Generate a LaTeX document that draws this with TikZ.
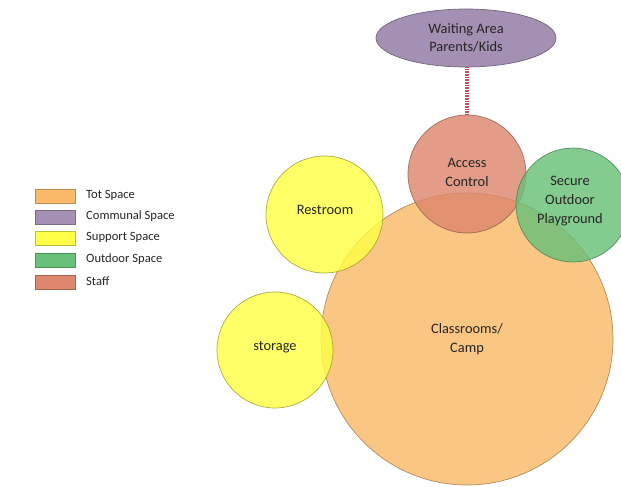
\documentclass[tikz,border=0pt]{standalone}
\usepackage{fontspec}
\setmainfont{Carlito}
\usetikzlibrary{shapes.geometric}
\definecolor{totc}{RGB}{250,186,105}
\definecolor{commc}{RGB}{164,144,178}
\definecolor{suppc}{RGB}{255,255,70}
\definecolor{outc}{RGB}{105,192,120}
\definecolor{staffc}{RGB}{222,135,110}
\definecolor{linkc}{RGB}{195,80,92}
\tikzset{
  zone/.style={circle, inner sep=0pt, fill opacity=0.82, draw opacity=0.8, text opacity=1,
    line width=0.7pt, align=center, font=\fontsize{14.4}{19}\selectfont, text=black!85},
  legbox/.style={rectangle, minimum width=40pt, minimum height=14pt, inner sep=0pt, line width=0.6pt},
  legtxt/.style={anchor=west, inner sep=0pt, font=\fontsize{12.6}{14}\selectfont, text=black!85},
}
\begin{document}
\begin{tikzpicture}[x=1pt,y=-1pt]
\useasboundingbox (0,0) rectangle (621,487);
\fill[white] (0,0) rectangle (621,487);
\begin{scope}
\clip (0,0) rectangle (621,487);
% main classroom circle
\node[zone, fill=totc, draw=totc!65!black, minimum size=292pt] (class) at (467,339) {Classrooms/\\Camp};
\node[zone, fill=suppc, draw=suppc!60!black, minimum size=117pt] (rest) at (324.5,214.5) {};
\node[zone, fill=suppc, draw=suppc!60!black, minimum size=116pt] (stor) at (275,350) {};
\node[zone, fill=staffc, draw=staffc!65!black, minimum size=118pt] (acc) at (467,174) {};
\node[zone, fill=outc, draw=outc!65!black, minimum size=114pt] (play) at (573,205) {};
\node[zone, fill opacity=0] (acct) at (467,172) {Access\\Control};
\node[zone, fill opacity=0] (playt) at (570,201) {Secure\\Outdoor\\Playground};
\node[zone, fill opacity=0] (restt) at (325,210) {Restroom};
\node[zone, fill opacity=0] (stort) at (275,347) {storage};
% waiting area
\node[ellipse, fill=commc, draw=commc!70!black, line width=0.7pt, minimum width=180pt, minimum height=58pt,
  inner sep=0pt, align=center, font=\fontsize{14.4}{18}\selectfont, text=black!85] (wait) at (466,38) {Waiting Area\\Parents/Kids};
\draw[linkc, line width=4pt, dash pattern=on 0.9pt off 0.7pt] (acc.north |- wait.south) -- (acc.north);
\end{scope}
% legend
\node[legbox, fill=totc, draw=totc!75!black] (l1) at (55,196) {};
\node[legbox, fill=commc, draw=commc!75!black] (l2) at (55,217) {};
\node[legbox, fill=suppc, draw=suppc!75!black] (l3) at (55,238) {};
\node[legbox, fill=outc, draw=outc!75!black] (l4) at (55,260) {};
\node[legbox, fill=staffc, draw=staffc!75!black] (l5) at (55,282) {};
\node[legtxt] (t1) at (86,195) {Tot Space};
\node[legtxt] (t2) at (86,216) {Communal Space};
\node[legtxt] (t3) at (86,237) {Support Space};
\node[legtxt] (t4) at (86,259) {Outdoor Space};
\node[legtxt] (t5) at (86,281) {Staff};
\end{tikzpicture}
\end{document}
